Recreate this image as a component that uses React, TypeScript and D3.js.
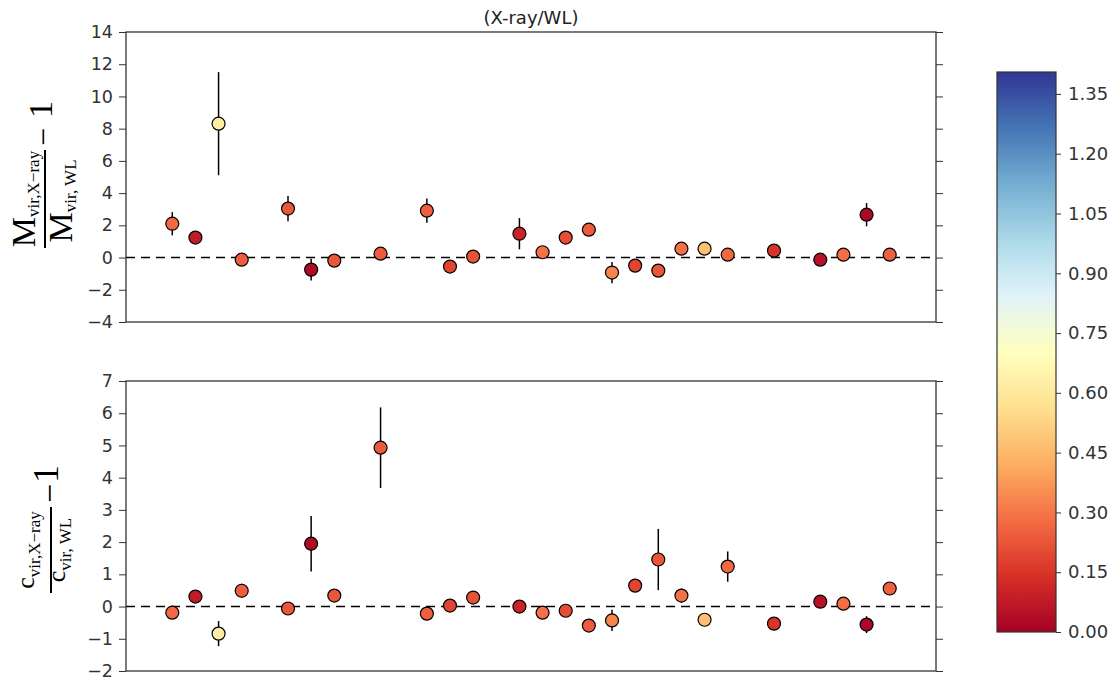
import React, { useEffect, useRef } from "react";
import * as d3 from "d3";

// cluster position along the x axis (no ticks shown)
const clusterIndex = [2, 3, 4, 5, 7, 8, 9, 11, 13, 14, 15, 17, 18, 19, 20, 21, 22, 23, 24, 25, 26, 28, 30, 31, 32, 33];

// M_vir,X-ray / M_vir,WL - 1
const massRatio = [2.1, 1.24, 8.31, -0.13, 3.04, -0.75, -0.19, 0.24, 2.91, -0.56, 0.06, 1.48, 0.33, 1.24, 1.73, -0.93, -0.5, -0.81, 0.55, 0.55, 0.18, 0.43, -0.13, 0.18, 2.66, 0.18];
const massErr = [0.72, 0.15, 3.2, 0.15, 0.78, 0.68, 0.15, 0.15, 0.75, 0.15, 0.15, 0.97, 0.15, 0.15, 0.15, 0.66, 0.15, 0.15, 0.15, 0.15, 0.15, 0.15, 0.15, 0.15, 0.72, 0.15];

// c_vir,X-ray / c_vir,WL - 1
const concRatio = [-0.19, 0.31, -0.84, 0.49, -0.06, 1.95, 0.34, 4.93, -0.22, 0.03, 0.28, 0.0, -0.19, -0.13, -0.59, -0.43, 0.65, 1.46, 0.34, -0.41, 1.24, -0.53, 0.15, 0.09, -0.56, 0.56];
const concErr = [0.08, 0.08, 0.39, 0.22, 0.08, 0.86, 0.08, 1.25, 0.08, 0.08, 0.08, 0.08, 0.08, 0.08, 0.08, 0.33, 0.08, 0.95, 0.22, 0.08, 0.47, 0.08, 0.08, 0.08, 0.26, 0.08];

// colour value of each cluster
const colorValue = [0.27, 0.08, 0.62, 0.25, 0.23, 0.03, 0.23, 0.24, 0.25, 0.19, 0.22, 0.1, 0.29, 0.21, 0.24, 0.33, 0.19, 0.23, 0.29, 0.47, 0.27, 0.15, 0.05, 0.28, 0.02, 0.25];

const massTicks = [-4, -2, 0, 2, 4, 6, 8, 10, 12, 14];
const concTicks = [-2, -1, 0, 1, 2, 3, 4, 5, 6, 7];
const cbarTicks = [0, 0.15, 0.3, 0.45, 0.6, 0.75, 0.9, 1.05, 1.2, 1.35];
const cbarDomain = [0, 1.405];
// RdYlBu anchor colours (linear between them)
const rdylbu = ["#a50026", "#d73027", "#f46d43", "#fdae61", "#fee090", "#ffffbf", "#e0f3f8", "#abd9e9", "#74add1", "#4575b4", "#313695"];

const tickFont = "'DejaVu Sans', sans-serif";
const mathFont = "'Liberation Serif', 'DejaVu Serif', serif";

function App() {
  const ref = useRef(null);

  useEffect(() => {
    const svg = d3.select(ref.current);
    svg.selectAll("*").remove();

    const left = 126, right = 936;
    const x = d3.scaleLinear().domain([0, 35]).range([left, right]);
    const interp = d3.piecewise(d3.interpolateRgb, rdylbu);
    const colorScale = d3.scaleSequential(interp).domain(cbarDomain);

    //draw one panel with errorbars
    const drawPanel = (top, bottom, domain, ticks, vals, errs) => {
      const y = d3.scaleLinear().domain(domain).range([bottom, top]);
      const g = svg.append("g");

      g.append("line")
        .attr("x1", left).attr("x2", right)
        .attr("y1", y(0)).attr("y2", y(0))
        .attr("stroke", "black").attr("stroke-width", 1.6)
        .attr("stroke-dasharray", "9,6");

      const yl = d3.axisLeft(y).tickValues(ticks).tickSize(7).tickPadding(6).tickFormat(d => d < 0 ? "\u2212" + Math.abs(d) : String(d));
      const yr = d3.axisRight(y).tickValues(ticks).tickSize(7).tickFormat(() => "");
      const ga = g.append("g").attr("transform", `translate(${left},0)`).call(yl);
      const gb = g.append("g").attr("transform", `translate(${right},0)`).call(yr);
      [ga, gb].forEach(a => {
        a.select(".domain").remove();
        a.selectAll("line").attr("stroke", "#333").attr("stroke-width", 1);
        a.selectAll("text").attr("font-family", tickFont).attr("font-size", 17.5).attr("fill", "#333");
      });

      g.append("rect")
        .attr("x", left).attr("y", top)
        .attr("width", right - left).attr("height", bottom - top)
        .attr("fill", "none").attr("stroke", "#333").attr("stroke-width", 1.3);

      g.selectAll(".err").data(clusterIndex).enter().append("line")
        .attr("x1", d => x(d)).attr("x2", d => x(d))
        .attr("y1", (d, i) => y(vals[i] + errs[i]))
        .attr("y2", (d, i) => y(vals[i] - errs[i]))
        .attr("stroke", "black").attr("stroke-width", 1.5);

      g.selectAll(".pt").data(clusterIndex).enter().append("circle")
        .attr("cx", d => x(d))
        .attr("cy", (d, i) => y(vals[i]))
        .attr("r", 6.5)
        .attr("fill", (d, i) => colorScale(colorValue[i]))
        .attr("stroke", "black").attr("stroke-width", 1.2);
    };

    drawPanel(32, 322, [-4, 14], massTicks, massRatio, massErr);
    drawPanel(381, 671, [-2, 7], concTicks, concRatio, concErr);

    svg.append("text")
      .attr("x", (left + right) / 2).attr("y", 24)
      .attr("text-anchor", "middle")
      .attr("font-family", tickFont).attr("font-size", 18).attr("fill", "#222")
      .text("(X-ray/WL)");

    //colorbar
    const cbX = 997, cbW = 59, cbTop = 72, cbBot = 632;
    const grad = svg.append("defs").append("linearGradient")
      .attr("id", "cbgrad").attr("x1", 0).attr("y1", 1).attr("x2", 0).attr("y2", 0);
    d3.range(0, 1.0001, 0.02).forEach(t => {
      grad.append("stop").attr("offset", t).attr("stop-color", interp(t));
    });
    svg.append("rect")
      .attr("x", cbX).attr("y", cbTop).attr("width", cbW).attr("height", cbBot - cbTop)
      .attr("fill", "url(#cbgrad)").attr("stroke", "#333").attr("stroke-width", 1.2);
    const cy = d3.scaleLinear().domain(cbarDomain).range([cbBot, cbTop]);
    const ca = svg.append("g").attr("transform", `translate(${cbX + cbW},0)`)
      .call(d3.axisRight(cy).tickValues(cbarTicks).tickSize(5).tickPadding(7).tickFormat(d3.format(".2f")));
    ca.select(".domain").remove();
    ca.selectAll("line").attr("stroke", "#333");
    ca.selectAll("text").attr("font-family", tickFont).attr("font-size", 18).attr("fill", "#333");

    //y labels (rotated fractions)
    const lab1 = svg.append("g").attr("transform", "translate(45,199) rotate(-90)")
      .attr("font-family", mathFont).attr("fill", "black");
    const n1 = lab1.append("text").attr("x", 0).attr("y", -10).attr("text-anchor", "middle");
    n1.append("tspan").attr("font-size", 34).text("M");
    n1.append("tspan").attr("font-size", 17).attr("dy", 4).text("vir,X\u2212ray");
    lab1.append("line").attr("x1", -49).attr("x2", 49).attr("y1", 0).attr("y2", 0).attr("stroke", "black").attr("stroke-width", 2);
    const d1 = lab1.append("text").attr("x", -2).attr("y", 27).attr("text-anchor", "middle");
    d1.append("tspan").attr("font-size", 34).text("M");
    d1.append("tspan").attr("font-size", 17).attr("dy", 4).text("vir, WL");
    lab1.append("text").attr("x", 53).attr("y", 9).attr("font-size", 32).text("\u2212");
    lab1.append("text").attr("x", 81).attr("y", 7).attr("font-size", 34).text("1");

    const lab2 = svg.append("g").attr("transform", "translate(51,550) rotate(-90)")
      .attr("font-family", mathFont).attr("fill", "black");
    const n2 = lab2.append("text").attr("x", 0).attr("y", -17).attr("text-anchor", "middle");
    n2.append("tspan").attr("font-size", 26).text("c");
    n2.append("tspan").attr("font-size", 17).attr("dy", 6).text("vir,X\u2212ray");
    lab2.append("line").attr("x1", -43).attr("x2", 43).attr("y1", 0).attr("y2", 0).attr("stroke", "black").attr("stroke-width", 2);
    const d2 = lab2.append("text").attr("x", 0).attr("y", 14).attr("text-anchor", "middle");
    d2.append("tspan").attr("font-size", 26).text("c");
    d2.append("tspan").attr("font-size", 17).attr("dy", 6).text("vir, WL");
    lab2.append("text").attr("x", 47).attr("y", 10).attr("font-size", 34).text("\u2212");
    lab2.append("text").attr("x", 67).attr("y", 7).attr("font-size", 36).text("1");
  }, []);

  return (
    <svg ref={ref} width={1120} height={691}
      style={{ position: "absolute", left: 0, top: 0, background: "white" }} />
  );
}

export default App;
